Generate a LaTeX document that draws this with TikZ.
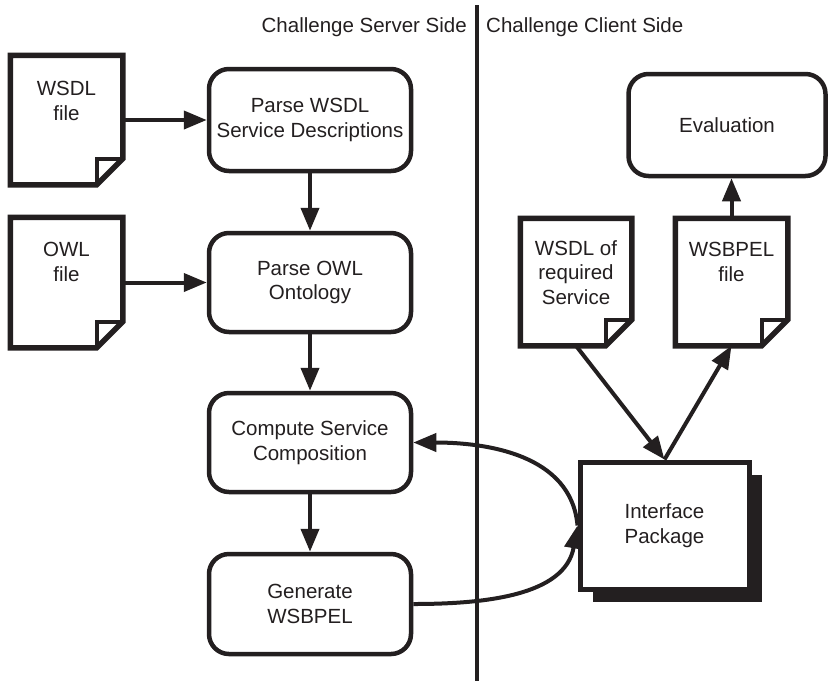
\documentclass[tikz,border=0pt]{standalone}
\usepackage{fontspec}
\setmainfont{Liberation Sans}
\usetikzlibrary{arrows.meta,shadows}
\definecolor{ink}{HTML}{231F20}
\newcommand\docshape[1]{%
  \draw[docline] (#1.north west) -- (#1.north east) -- ([yshift=26pt]#1.south east) -- ([xshift=-26pt]#1.south east) -- (#1.south west) -- cycle;
  \draw[foldline] ([xshift=-26pt]#1.south east) -- ([xshift=-26pt,yshift=26pt]#1.south east) -- ([yshift=26pt]#1.south east);}
\begin{document}
\begin{tikzpicture}[x=1pt,y=-1pt,
  every node/.style={font=\fontsize{20.5}{24.5}\selectfont, text=ink, align=center},
  procbox/.style={draw=ink, line width=4.5pt, rounded corners=20pt, fill=white, inner sep=0pt, minimum width=202pt},
  docbox/.style={inner sep=0pt, outer sep=2.75pt, draw=none},
  doctext/.style={anchor=north, inner sep=0pt},
  docline/.style={draw=ink, fill=white, line width=5.5pt, line join=miter},
  foldline/.style={draw=ink, line width=3.5pt, line join=miter},
  arr/.style={draw=ink, line width=4pt, -{Triangle[length=23pt,width=18pt]}},
  divider/.style={draw=ink, line width=4.5pt},
  pkg/.style={draw=ink, line width=5pt, fill=white, inner sep=0pt,
    drop shadow={shadow xshift=13pt, shadow yshift=-13pt, fill=ink, opacity=1}}
]
\useasboundingbox (0,0) rectangle (829,681);

% divider
\coordinate (dtop) at (477,5);
\coordinate (dbot) at (477,681);
\draw[divider] (dtop) -- (dbot);

% headers
\node[anchor=base east, inner sep=0pt] (srv) at (467,32) {Challenge Server Side};
\node[anchor=base west, inner sep=0pt] (cli) at (486,32) {Challenge Client Side};

% process boxes
\node[procbox, minimum height=102pt] (pw) at (310,120) {Parse WSDL\\Service Descriptions};
\node[procbox, minimum height=99pt] (po) at (310,282.5) {Parse OWL\\Ontology};
\node[procbox, minimum height=99pt] (cs) at (310,442.5) {Compute Service\\Composition};
\node[procbox, minimum height=100pt] (gw) at (310,604) {Generate\\WSBPEL};
\node[procbox, minimum width=197pt, minimum height=102pt] (ev) at (727,125) {Evaluation};
\node[pkg, minimum width=169pt, minimum height=127pt] (ip) at (664.5,525.5) {Interface\\Package};

% documents
\node[docbox, minimum width=107pt, minimum height=124pt] (wsdl) at (66.5,120) {};
\docshape{wsdl}
\node[doctext] (wsdlt) at ([yshift=-26pt]wsdl.north) {WSDL\\file};

\node[docbox, minimum width=107pt, minimum height=125pt] (owl) at (66.5,282.5) {};
\docshape{owl}
\node[doctext] (owlt) at ([yshift=-25pt]owl.north) {OWL\\file};

\node[docbox, minimum width=106pt, minimum height=122pt] (req) at (576,282) {};
\docshape{req}
\node[doctext] (reqt) at ([yshift=-22pt]req.north) {WSDL of\\required\\Service};

\node[docbox, minimum width=107pt, minimum height=122pt] (bpel) at (731.5,282) {};
\docshape{bpel}
\node[doctext] (bpelt) at ([yshift=-24pt]bpel.north) {WSBPEL\\file};

% connectors
\draw[arr] (wsdl) -- (pw);
\draw[arr] (owl) -- (po);
\draw[arr] (pw) -- (po);
\draw[arr] (po) -- (cs);
\draw[arr] (cs) -- (gw);
\draw[arr] (bpel.north) -- (bpel.north |- ev.south);
\draw[arr] (req.south) -- (ip.north);
\draw[arr] (ip.north) -- (bpel.south);
\draw[arr] (ip.west) to[out=95,in=0] (cs.east);
\draw[arr] (gw.east) to[out=0,in=-100] (ip.west);
\end{tikzpicture}
\end{document}
